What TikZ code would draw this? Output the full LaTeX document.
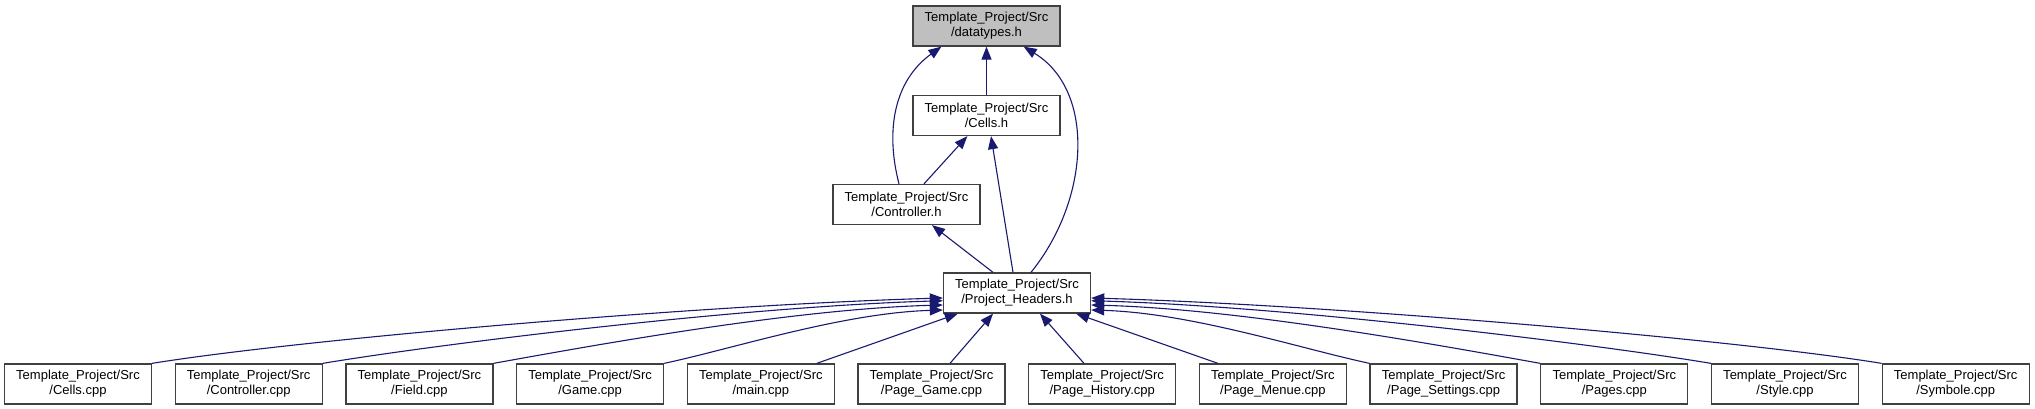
\documentclass[tikz,border=0pt]{standalone}
\usepackage{fontspec}
\setmainfont{Liberation Sans}
\usetikzlibrary{arrows.meta,calc}
\definecolor{edgeblue}{HTML}{191970}
\definecolor{boxborder}{HTML}{404040}
\definecolor{rootfill}{HTML}{BFBFBF}
\begin{document}
\begin{tikzpicture}[x=1pt,y=-1pt,
  filebox/.style={draw=boxborder,line width=1.3pt,fill=white,minimum width=147pt,minimum height=40pt,
    inner sep=0pt,align=center,font=\fontsize{13}{15}\selectfont},
  rootbox/.style={filebox,fill=rootfill},
  dep/.style={draw=edgeblue,line width=1.1pt,-{Triangle[length=13pt,width=10pt]}}]
\useasboundingbox (0,0) rectangle (2035,409);
% nodes
\node[rootbox] (dt) at (986.5,26) {Template\_Project/Src\\/datatypes.h};
\node[filebox] (cellsh) at (986.5,115.5) {Template\_Project/Src\\/Cells.h};
\node[filebox] (ctrlh) at (906.5,204.5) {Template\_Project/Src\\/Controller.h};
\node[filebox] (ph) at (1017,293) {Template\_Project/Src\\/Project\_Headers.h};
\node[filebox] (cellscpp) at (78,384) {Template\_Project/Src\\/Cells.cpp};
\node[filebox] (ctrlcpp) at (248.7,384) {Template\_Project/Src\\/Controller.cpp};
\node[filebox] (fieldcpp) at (419.4,384) {Template\_Project/Src\\/Field.cpp};
\node[filebox] (gamecpp) at (590.1,384) {Template\_Project/Src\\/Game.cpp};
\node[filebox] (maincpp) at (760.8,384) {Template\_Project/Src\\/main.cpp};
\node[filebox] (pgame) at (931.5,384) {Template\_Project/Src\\/Page\_Game.cpp};
\node[filebox] (phist) at (1102.2,384) {Template\_Project/Src\\/Page\_History.cpp};
\node[filebox] (pmenue) at (1272.9,384) {Template\_Project/Src\\/Page\_Menue.cpp};
\node[filebox] (psett) at (1443.6,384) {Template\_Project/Src\\/Page\_Settings.cpp};
\node[filebox] (pages) at (1614.3,384) {Template\_Project/Src\\/Pages.cpp};
\node[filebox] (style) at (1785,384) {Template\_Project/Src\\/Style.cpp};
\node[filebox] (symb) at (1955.7,384) {Template\_Project/Src\\/Symbole.cpp};
% upper edges
\draw[dep] (cellsh.north) -- (dt.south);
\draw[dep] ($(ctrlh.north)+(-7.5,0)$) .. controls +(-14,-54) and +(-47,34) .. ($(dt.south west)+(29,0)$);
\draw[dep] ($(ph.north)+(14,0)$) .. controls +(59,-73) and +(72,44) .. ($(dt.south east)+(-37,0)$);
\draw[dep] ($(ctrlh.north)+(17.5,0)$) -- ($(cellsh.south west)+(55,0)$);
\draw[dep] ($(ph.north)+(-4,0)$) -- ($(cellsh.south)+(4.5,0)$);
\draw[dep] ($(ph.north)+(-24,0)$) -- ($(ctrlh.south)+(25.5,0)$);
% lower edges, left
\draw[dep] (cellscpp.north east) .. controls +(148,-24) and +(-243,7) .. ($(ph.west)+(0,5)$);
\draw[dep] (ctrlcpp.north east) .. controls +(120,-20) and +(-200,6) .. ($(ph.west)+(0,7.7)$);
\draw[dep] (fieldcpp.north east) .. controls +(100,-18) and +(-150,4) .. ($(ph.west)+(0,12)$);
\draw[dep] (gamecpp.north east) .. controls +(70,-15) and +(-100,3) .. ($(ph.west)+(0,17)$);
\draw[dep] ($(maincpp.north)+(56,0)$) -- ($(ph.south west)+(15,0)$);
\draw[dep] ($(pgame.north)+(18.5,0)$) -- ($(ph.south)+(-24,0)$);
% lower edges, right
\draw[dep] ($(phist.north)+(-18.2,0)$) -- ($(ph.south)+(23,0)$);
\draw[dep] ($(pmenue.north)+(-55,0)$) -- ($(ph.south east)+(-15,0)$);
\draw[dep] (psett.north west) .. controls +(-70,-15) and +(100,3) .. ($(ph.east)+(0,17)$);
\draw[dep] (pages.north west) .. controls +(-100,-18) and +(150,4) .. ($(ph.east)+(0,12)$);
\draw[dep] (style.north west) .. controls +(-120,-20) and +(200,6) .. ($(ph.east)+(0,7.7)$);
\draw[dep] (symb.north west) .. controls +(-148,-24) and +(243,7) .. ($(ph.east)+(0,5)$);
\end{tikzpicture}
\end{document}
